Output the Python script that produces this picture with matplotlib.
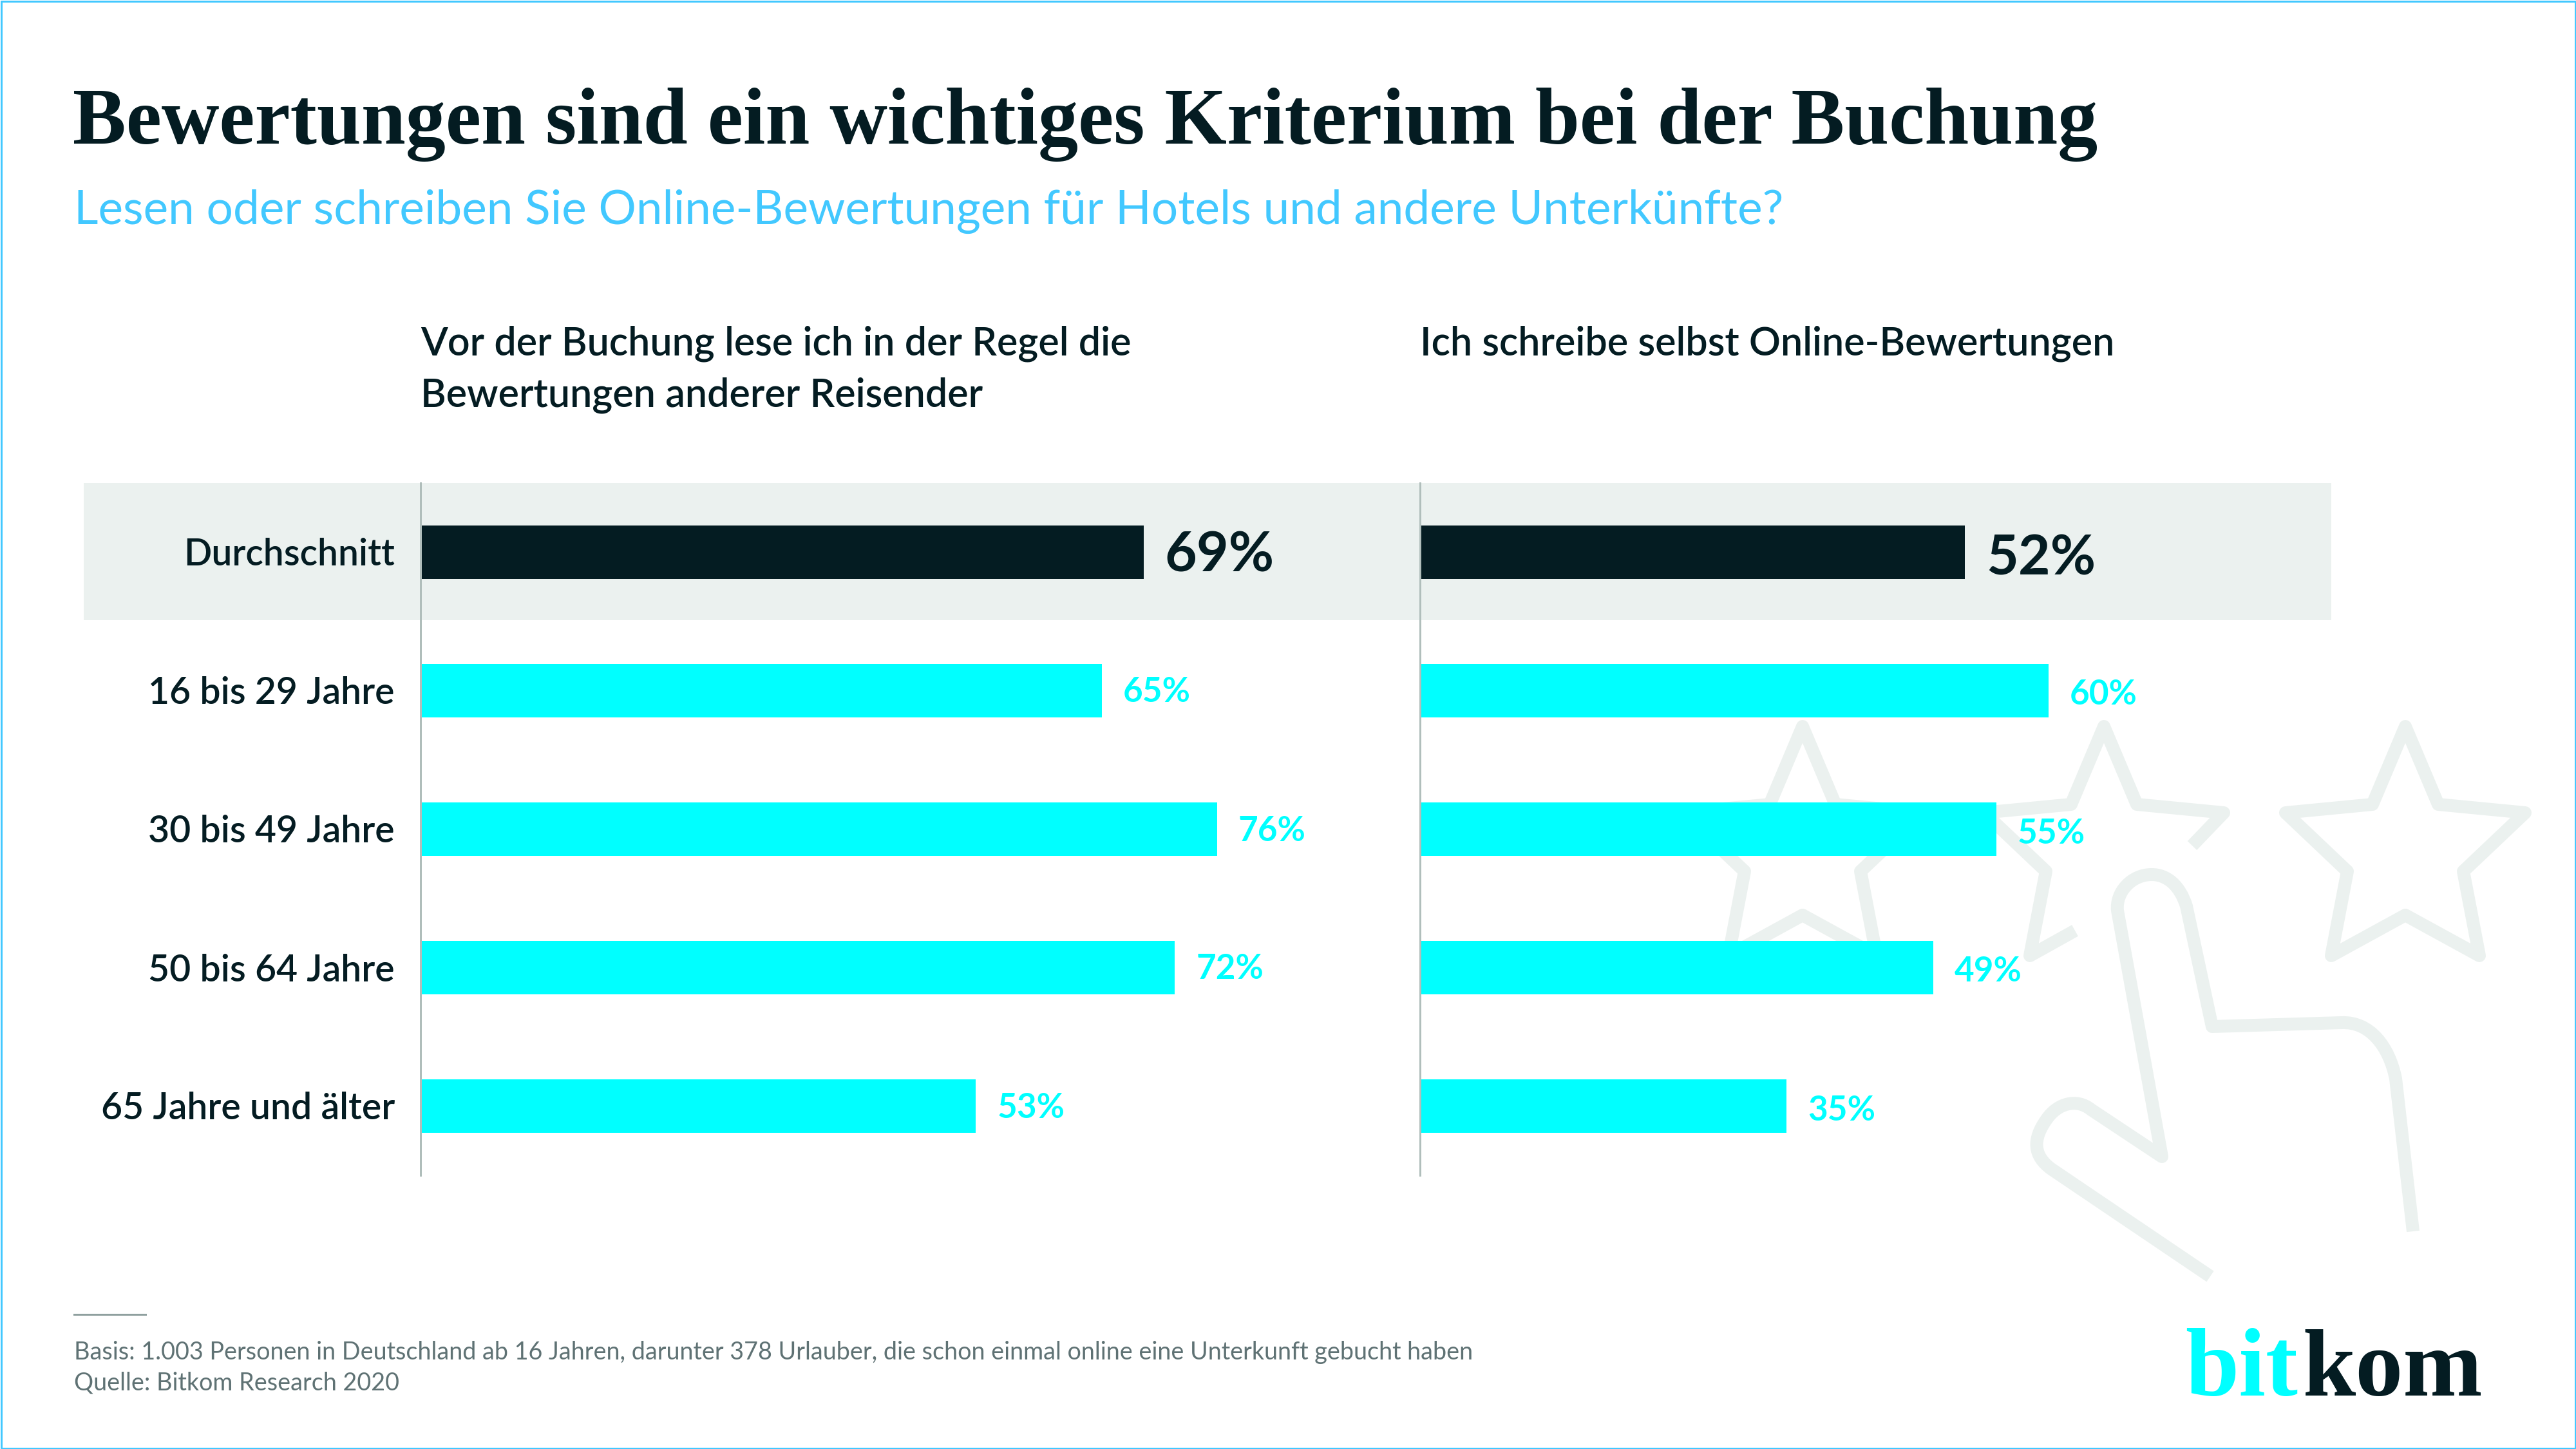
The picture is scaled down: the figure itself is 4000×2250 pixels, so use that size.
import matplotlib
matplotlib.use('Agg')
import matplotlib.pyplot as plt
from matplotlib.patches import Rectangle, PathPatch
from matplotlib.path import Path

# data
groups = ['Durchschnitt', '16 bis 29 Jahre', '30 bis 49 Jahre', '50 bis 64 Jahre', '65 Jahre und älter']
lese = [69, 65, 76, 72, 53]
schreibe = [52, 60, 55, 49, 35]

title = 'Bewertungen sind ein wichtiges Kriterium bei der Buchung'
subtitle = 'Lesen oder schreiben Sie Online-Bewertungen für Hotels und andere Unterkünfte?'
head_left = ['Vor der Buchung lese ich in der Regel die', 'Bewertungen anderer Reisender']
head_right = 'Ich schreibe selbst Online-Bewertungen'
foot_1 = 'Basis: 1.003 Personen in Deutschland ab 16 Jahren, darunter 378 Urlauber, die schon einmal online eine Unterkunft gebucht haben'
foot_2 = 'Quelle: Bitkom Research 2020'

# colours
DARK = '#041c22'
CYAN = '#00ffff'
SKY = '#42c8ff'
BAND = '#ebf1ef'
LINE = '#b0bebb'
GREY = '#5f7274'

# 1 px = 0.72 pt at dpi 100
PX = 0.72
SERIF = 'Liberation Serif'
SANS = 'Lato'

fig = plt.figure(figsize=(40, 22.5), dpi=100, facecolor='white')

# background layer in pixel coordinates
bg = fig.add_axes([0, 0, 1, 1])
bg.set_xlim(0, 4000)
bg.set_ylim(2250, 0)
bg.axis('off')

bg.add_patch(Rectangle((1.5, 1.5), 3997, 2247, fill=False, ec=SKY, lw=3 * PX))
bg.add_patch(Rectangle((130, 750), 3490, 213, fc=BAND, ec='none'))

# star outline, relative to the top tip
star = [(0, 0), (51, 121), (186, 134), (90, 225), (115, 356), (0, 293),
        (-115, 356), (-90, 225), (-186, 134), (-51, 121)]
for cx in [2799, 3735]:
    pts = [(cx + dx, 1128 + dy) for dx, dy in star]
    bg.add_patch(PathPatch(Path(pts + [pts[0]], closed=True), fill=False, ec=BAND,
                           lw=20 * PX, joinstyle='round'))

# middle star is open around the hand
cx = 3267
pts = [(3404, 1313)] + [(cx + dx, 1128 + dy) for dx, dy in star[2:0:-1] + [star[0]] + star[:-4:-1]]
pts += [(cx - 90, 1353), (cx - 115, 1484), (3222, 1445)]
bg.add_patch(PathPatch(Path(pts), fill=False, ec=BAND, lw=20 * PX, joinstyle='round'))

# hand
C4 = Path.CURVE4
hand_pts = [(3747, 1912), (3720, 1675),
            (3710, 1625), (3680, 1586), (3636, 1588),
            (3435, 1594), (3395, 1407),
            (3385, 1375), (3365, 1358), (3341, 1358),
            (3310, 1358), (3285, 1385), (3288, 1414),
            (3357, 1796), (3247, 1723),
            (3225, 1705), (3195, 1713), (3178, 1738),
            (3155, 1770), (3158, 1795), (3185, 1815),
            (3432, 1982)]
hand_codes = [Path.MOVETO, Path.LINETO, C4, C4, C4, Path.LINETO, Path.LINETO, C4, C4, C4,
              C4, C4, C4, Path.LINETO, Path.LINETO, C4, C4, C4, C4, C4, C4, Path.LINETO]
bg.add_patch(PathPatch(Path(hand_pts, hand_codes), fill=False, ec=BAND, lw=20 * PX,
                       joinstyle='round', capstyle='butt'))

# texts
bg.text(113, 223, title, family=SERIF, weight='bold', fontsize=124 * PX, color=DARK, va='baseline')
bg.text(115, 348, subtitle, family=SANS, fontsize=73 * PX, color=SKY, va='baseline')
bg.text(653, 551, head_left[0], family=SANS, weight='semibold', fontsize=61 * PX, color=DARK, va='baseline')
bg.text(653, 631, head_left[1], family=SANS, weight='semibold', fontsize=61 * PX, color=DARK, va='baseline')
bg.text(2205, 551, head_right, family=SANS, weight='semibold', fontsize=61 * PX, color=DARK, va='baseline')

bg.plot([115, 226], [2041, 2041], color='#8fa09f', lw=3 * PX)
bg.text(115, 2111, foot_1, family=SANS, fontsize=37.7 * PX, color=GREY, va='baseline')
bg.text(115, 2159, foot_2, family=SANS, fontsize=37.7 * PX, color=GREY, va='baseline')

# logo
bg.text(3568, 2167, 'bit', family=SERIF, weight='bold', fontsize=150 * PX, color=CYAN, ha='right', va='baseline')
bg.text(3575, 2167, 'kom', family=SERIF, weight='bold', fontsize=148 * PX, color=DARK, ha='left', va='baseline')


def bars(x0, values, show_labels, drop_top, drop):
    # 100 % = 1627 px, rows 215 px
    ax = fig.add_axes([x0 / 4000, 1 - 1825 / 2250, 1627 / 4000, 1075 / 2250])
    ax.patch.set_alpha(0)
    ax.barh(range(len(values)), values, height=0.385,
            color=[DARK] + [CYAN] * (len(values) - 1))
    ax.set_xlim(0, 100)
    ax.set_ylim(4.5, -0.5)
    ax.set_xticks([])
    ax.set_yticks([])
    for s in ['top', 'right', 'bottom']:
        ax.spines[s].set_visible(False)
    ax.spines['left'].set_color(LINE)
    ax.spines['left'].set_linewidth(3 * PX)

    for i, v in enumerate(values):
        if i == 0:
            ax.annotate(f'{v}%', (v, i), xytext=(33 * PX, -drop_top * PX), textcoords='offset points',
                        family=SANS, weight='bold', fontsize=86 * PX, color=DARK, va='baseline')
        else:
            ax.annotate(f'{v}%', (v, i), xytext=(33 * PX, -drop * PX), textcoords='offset points',
                        family=SANS, weight='bold', fontsize=53 * PX, color=CYAN, va='baseline')
        if show_labels:
            ax.annotate(groups[i], (0, i), xytext=(-40 * PX, -21 * PX), textcoords='offset points',
                        family=SANS, weight='semibold', fontsize=57 * PX, color=DARK, ha='right', va='baseline')


bars(653, lese, True, 30, 18)
bars(2205, schreibe, False, 35, 22)

fig.savefig('out.png', dpi=100)
